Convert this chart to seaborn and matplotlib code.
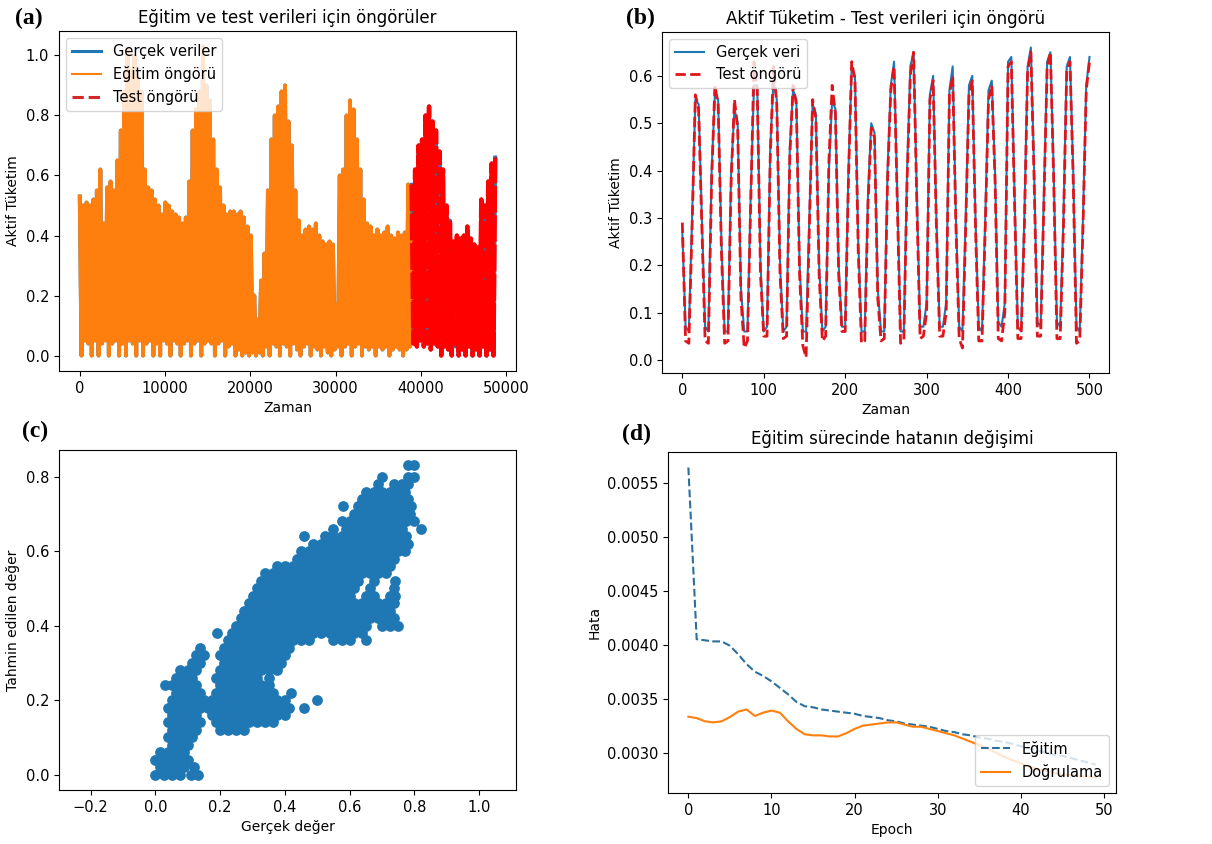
import numpy as np
import matplotlib
matplotlib.use("Agg")
import matplotlib.pyplot as plt
import seaborn as sns

# (a) daily peaks / troughs (train: 0-38900, test: 38900-48700)
egitim_tepe = [0.53, 0.50, 0.51, 0.50, 0.52, 0.55, 0.62, 0.44, 0.56, 0.58,
               0.55, 0.65, 0.75, 0.88, 1.02, 0.95, 1.00, 0.92, 0.88, 0.62,
               0.56, 0.55, 0.52, 0.50, 0.47, 0.51, 0.50, 0.48, 0.47, 0.46,
               0.44, 0.46, 0.58, 0.75, 0.82, 0.88, 1.03, 0.90, 0.85, 0.72,
               0.62, 0.56, 0.50, 0.47, 0.48, 0.48, 0.47, 0.48, 0.46, 0.43,
               0.40, 0.20, 0.12, 0.25, 0.34, 0.55, 0.72, 0.80, 0.83, 0.88,
               0.90, 0.78, 0.70, 0.55, 0.45, 0.40, 0.42, 0.43, 0.42, 0.44,
               0.40, 0.38, 0.37, 0.38, 0.37, 0.17, 0.60, 0.62, 0.80, 0.85,
               0.82, 0.72, 0.62, 0.52, 0.44, 0.43, 0.40, 0.42, 0.40, 0.41,
               0.43, 0.40, 0.39, 0.41, 0.40, 0.41, 0.57, 0.40]
egitim_dip = [0.00, 0.05, 0.04, 0.00, 0.05, 0.00, 0.04, 0.05, 0.00, 0.04,
              0.05, 0.00, 0.04, 0.00, 0.05, 0.04, 0.00, 0.05, 0.00, 0.04,
              0.05, 0.00, 0.04, 0.00, 0.05, 0.04, 0.00, 0.05, 0.04, 0.00,
              0.04, 0.05, 0.00, 0.04, 0.05, 0.00, 0.04, 0.05, 0.04, 0.00,
              0.04, 0.05, 0.00, 0.03, 0.04, 0.00, 0.02, 0.00, 0.01, 0.00,
              0.01, 0.00, 0.01, 0.00, 0.03, 0.00, 0.04, 0.03, 0.00, 0.04,
              0.03, 0.00, 0.04, 0.02, 0.00, 0.03, 0.04, 0.00, 0.03, 0.02,
              0.00, 0.03, 0.01, 0.00, 0.02, 0.03, 0.00, 0.03, 0.04, 0.00,
              0.03, 0.04, 0.00, 0.03, 0.02, 0.03, 0.00, 0.03, 0.02, 0.03,
              0.00, 0.02, 0.03, 0.02, 0.00, 0.02, 0.03]
test_tepe = [0.57, 0.62, 0.70, 0.72, 0.80, 0.83, 0.78, 0.75, 0.68, 0.62,
             0.50, 0.45, 0.38, 0.40, 0.39, 0.40, 0.43, 0.39, 0.37, 0.36,
             0.52, 0.50, 0.58, 0.64, 0.66]
test_dip = [0.04, 0.03, 0.05, 0.03, 0.04, 0.02, 0.04, 0.03, 0.00, 0.03,
            0.02, 0.00, 0.03, 0.00, 0.02, 0.00, 0.03, 0.00, 0.02, 0.00,
            0.03, 0.00, 0.02, 0.00]

# (b) first 500 test hours, every 4th hour
gercek_veri = [0.27, 0.07, 0.06, 0.30, 0.55, 0.54, 0.30, 0.07, 0.06, 0.40,
               0.56, 0.55, 0.25, 0.06, 0.06, 0.40, 0.53, 0.50, 0.15, 0.06,
               0.06, 0.35, 0.58, 0.58, 0.20, 0.06, 0.07, 0.45, 0.59, 0.55,
               0.20, 0.06, 0.07, 0.45, 0.57, 0.55, 0.20, 0.06, 0.06, 0.30,
               0.54, 0.52, 0.20, 0.06, 0.07, 0.40, 0.55, 0.53, 0.20, 0.07,
               0.07, 0.40, 0.62, 0.60, 0.25, 0.06, 0.06, 0.35, 0.50, 0.48,
               0.15, 0.06, 0.06, 0.40, 0.58, 0.63, 0.35, 0.06, 0.06, 0.40,
               0.62, 0.65, 0.35, 0.07, 0.07, 0.12, 0.56, 0.60, 0.30, 0.07,
               0.07, 0.12, 0.57, 0.62, 0.30, 0.07, 0.06, 0.30, 0.58, 0.60,
               0.30, 0.07, 0.06, 0.30, 0.57, 0.59, 0.40, 0.08, 0.07, 0.12,
               0.63, 0.64, 0.35, 0.07, 0.06, 0.30, 0.62, 0.66, 0.40, 0.08,
               0.07, 0.35, 0.63, 0.65, 0.40, 0.08, 0.07, 0.30, 0.62, 0.64,
               0.40, 0.07, 0.06, 0.30, 0.58, 0.64]
test_ongoru = [0.29, 0.04, 0.035, 0.28, 0.56, 0.53, 0.28, 0.04, 0.035, 0.38,
               0.58, 0.54, 0.23, 0.035, 0.04, 0.38, 0.55, 0.49, 0.13, 0.025,
               0.04, 0.33, 0.63, 0.57, 0.18, 0.05, 0.05, 0.43, 0.62, 0.54,
               0.18, 0.045, 0.05, 0.43, 0.58, 0.54, 0.18, 0.03, 0.005, 0.28,
               0.55, 0.51, 0.18, 0.04, 0.05, 0.42, 0.58, 0.52, 0.18, 0.06,
               0.06, 0.38, 0.63, 0.59, 0.23, 0.035, 0.04, 0.33, 0.49, 0.47,
               0.13, 0.04, 0.045, 0.38, 0.57, 0.62, 0.33, 0.035, 0.04, 0.38,
               0.60, 0.65, 0.33, 0.045, 0.05, 0.10, 0.55, 0.59, 0.28, 0.05,
               0.05, 0.10, 0.56, 0.60, 0.28, 0.045, 0.025, 0.28, 0.56, 0.59,
               0.28, 0.04, 0.04, 0.28, 0.55, 0.58, 0.38, 0.045, 0.04, 0.10,
               0.62, 0.63, 0.33, 0.045, 0.045, 0.28, 0.61, 0.65, 0.38, 0.05,
               0.05, 0.33, 0.62, 0.65, 0.38, 0.045, 0.045, 0.28, 0.61, 0.63,
               0.38, 0.035, 0.04, 0.28, 0.57, 0.63]

# (c) predicted vs real, grouped by predicted level
satir_tahmin = [0.00, 0.02, 0.04, 0.06, 0.08, 0.10, 0.12, 0.14, 0.16, 0.18,
                0.20, 0.22, 0.24, 0.26, 0.28, 0.30, 0.32, 0.34, 0.36, 0.38,
                0.40, 0.42, 0.44, 0.46, 0.48, 0.50, 0.52, 0.54, 0.56, 0.58,
                0.60, 0.62, 0.64, 0.66, 0.68, 0.70, 0.72, 0.74, 0.76, 0.78,
                0.80, 0.83]
satir_gercek = [
    [0.00, 0.025, 0.05, 0.075, 0.11, 0.13],
    [0.013, 0.038, 0.063, 0.088, 0.12],
    [0.00, 0.025, 0.05, 0.075, 0.10],
    [0.013, 0.038, 0.063, 0.088],
    [0.05, 0.075, 0.10],
    [0.038, 0.063, 0.088, 0.113],
    [0.05, 0.075, 0.10, 0.125, 0.20, 0.225, 0.25, 0.275],
    [0.038, 0.063, 0.088, 0.113, 0.138, 0.188, 0.213, 0.238, 0.263, 0.288, 0.313, 0.338, 0.363],
    [0.05, 0.075, 0.10, 0.125, 0.175, 0.20, 0.225, 0.25, 0.275, 0.30, 0.325, 0.35, 0.375, 0.40],
    [0.038, 0.063, 0.088, 0.113, 0.138, 0.163, 0.188, 0.213, 0.238, 0.263, 0.288, 0.313, 0.338,
     0.363, 0.388, 0.413, 0.46],
    [0.05, 0.075, 0.10, 0.125, 0.15, 0.175, 0.20, 0.225, 0.25, 0.275, 0.30, 0.325, 0.35, 0.375,
     0.40, 0.50],
    [0.063, 0.088, 0.113, 0.138, 0.188, 0.213, 0.238, 0.263, 0.288, 0.313, 0.338, 0.363, 0.42],
    [0.03, 0.05, 0.075, 0.10, 0.125, 0.20, 0.225, 0.25, 0.275, 0.30, 0.325, 0.35],
    [0.063, 0.088, 0.113, 0.188, 0.213, 0.238, 0.263, 0.288, 0.313, 0.35],
    [0.075, 0.10, 0.125, 0.20, 0.225, 0.25, 0.275, 0.30, 0.325, 0.35, 0.375],
    [0.113, 0.138, 0.213, 0.238, 0.263, 0.288, 0.313, 0.338, 0.363, 0.388],
    [0.125, 0.15, 0.20, 0.225, 0.25, 0.275, 0.30, 0.325, 0.35, 0.375, 0.40],
    [0.138, 0.213, 0.238, 0.263, 0.288, 0.313, 0.338, 0.363, 0.388, 0.413],
    [0.225, 0.25, 0.275, 0.30, 0.325, 0.35, 0.375, 0.40, 0.425, 0.45, 0.475, 0.55, 0.575, 0.60, 0.65],
    [0.19, 0.238, 0.263, 0.288, 0.313, 0.338, 0.363, 0.388, 0.413, 0.438, 0.463, 0.488, 0.513,
     0.538, 0.563, 0.588, 0.613, 0.638],
    [0.25, 0.275, 0.30, 0.325, 0.35, 0.375, 0.40, 0.425, 0.45, 0.475, 0.50, 0.525, 0.55, 0.575,
     0.60, 0.625, 0.65, 0.70, 0.725, 0.75],
    [0.263, 0.288, 0.313, 0.338, 0.363, 0.388, 0.413, 0.438, 0.463, 0.488, 0.513, 0.538, 0.563,
     0.588, 0.613, 0.638, 0.663, 0.688, 0.713, 0.738],
    [0.275, 0.30, 0.325, 0.35, 0.375, 0.40, 0.425, 0.45, 0.475, 0.50, 0.525, 0.55, 0.575, 0.60,
     0.625, 0.65, 0.675, 0.70, 0.725],
    [0.288, 0.313, 0.338, 0.363, 0.388, 0.413, 0.438, 0.463, 0.488, 0.513, 0.538, 0.563, 0.588,
     0.613, 0.638, 0.663, 0.688, 0.713, 0.738],
    [0.30, 0.325, 0.35, 0.375, 0.40, 0.425, 0.45, 0.475, 0.50, 0.525, 0.55, 0.575, 0.60, 0.65,
     0.675, 0.725, 0.74],
    [0.313, 0.338, 0.363, 0.388, 0.413, 0.438, 0.463, 0.488, 0.513, 0.538, 0.563, 0.588, 0.613,
     0.663, 0.738],
    [0.325, 0.35, 0.375, 0.40, 0.425, 0.45, 0.475, 0.50, 0.525, 0.55, 0.575, 0.60, 0.625, 0.675, 0.74],
    [0.338, 0.363, 0.388, 0.413, 0.438, 0.463, 0.488, 0.513, 0.538, 0.563, 0.588, 0.613, 0.638,
     0.663, 0.688, 0.713],
    [0.375, 0.40, 0.425, 0.45, 0.475, 0.50, 0.525, 0.55, 0.575, 0.60, 0.625, 0.65, 0.675, 0.70, 0.725],
    [0.438, 0.463, 0.488, 0.513, 0.538, 0.563, 0.588, 0.613, 0.638, 0.663, 0.688, 0.713, 0.738],
    [0.45, 0.475, 0.50, 0.525, 0.55, 0.575, 0.60, 0.625, 0.65, 0.675, 0.70, 0.725, 0.75, 0.77],
    [0.488, 0.513, 0.538, 0.563, 0.588, 0.613, 0.638, 0.663, 0.688, 0.713, 0.738, 0.763, 0.78],
    [0.46, 0.525, 0.55, 0.575, 0.60, 0.625, 0.65, 0.675, 0.70, 0.725, 0.75, 0.775],
    [0.55, 0.588, 0.613, 0.638, 0.663, 0.688, 0.713, 0.738, 0.763, 0.82],
    [0.575, 0.60, 0.625, 0.65, 0.675, 0.70, 0.725, 0.75, 0.775, 0.80],
    [0.613, 0.638, 0.663, 0.688, 0.713, 0.738, 0.763, 0.788],
    [0.58, 0.625, 0.65, 0.675, 0.70, 0.725, 0.75, 0.775, 0.79],
    [0.638, 0.663, 0.688, 0.713, 0.738, 0.763, 0.78],
    [0.65, 0.675, 0.70, 0.725, 0.75, 0.77],
    [0.688, 0.738, 0.763, 0.78],
    [0.70, 0.78, 0.80],
    [0.78, 0.80],
]

# (d) loss per epoch
egitim_hata = [0.00564, 0.00405, 0.00404, 0.00403, 0.00403, 0.00399, 0.00391, 0.00382, 0.00375, 0.00371,
               0.00366, 0.00360, 0.00354, 0.00347, 0.00343, 0.00342, 0.00340, 0.00339, 0.00338, 0.00337,
               0.00336, 0.00334, 0.00333, 0.00332, 0.00330, 0.00329, 0.00327, 0.00326, 0.00325, 0.00324,
               0.00322, 0.00320, 0.00319, 0.00317, 0.00316, 0.00314, 0.00313, 0.00311, 0.00310, 0.00308,
               0.00306, 0.00304, 0.00302, 0.00300, 0.00298, 0.00297, 0.00295, 0.00293, 0.00291, 0.00289]
dogrulama_hata = [0.003333, 0.00332, 0.00329, 0.00328, 0.00329, 0.00333, 0.00338, 0.00340, 0.00334, 0.00337,
                  0.00339, 0.00337, 0.00329, 0.00322, 0.00317, 0.00316, 0.00316, 0.00315, 0.00315, 0.00318,
                  0.00322, 0.00325, 0.00326, 0.00327, 0.00328, 0.00328, 0.00326, 0.00324, 0.00324, 0.00322,
                  0.00320, 0.00318, 0.00316, 0.00313, 0.00310, 0.00307, 0.00304, 0.00300, 0.00296, 0.00293,
                  0.00290, 0.00287, 0.00285, 0.00283, 0.00281, 0.00280, 0.00279, 0.00278, 0.00278, 0.00277]

plt.rcParams['font.family'] = ['DejaVu Sans']
plt.rcParams['xtick.labelsize'] = 10.5
plt.rcParams['ytick.labelsize'] = 10.5
plt.rcParams['axes.labelsize'] = 10
plt.rcParams['axes.titlesize'] = 12
plt.rcParams['legend.fontsize'] = 10.5

W, H = 1212, 844
fig = plt.figure(figsize=(W / 100, H / 100), dpi=100)

def kutu(sol, sag, ust, alt):
    return [sol / W, 1 - alt / H, (sag - sol) / W, (alt - ust) / H]

ax1 = fig.add_axes(kutu(59, 516, 31, 371))
ax2 = fig.add_axes(kutu(662, 1109, 32, 373))
ax3 = fig.add_axes(kutu(59, 516, 450, 790))
ax4 = fig.add_axes(kutu(668, 1116, 452, 793))

# (a)
egitim = np.empty(len(egitim_tepe) + len(egitim_dip))
egitim[0::2] = egitim_tepe
egitim[1::2] = egitim_dip
test = np.empty(len(test_tepe) + len(test_dip))
test[0::2] = test_tepe
test[1::2] = test_dip
x_egitim = np.linspace(0, 38900, len(egitim))
x_test = np.linspace(38900, 48700, len(test))

sns.lineplot(x=np.concatenate([x_egitim, x_test]), y=np.concatenate([egitim, test]), ax=ax1,
             color='tab:blue', lw=2.8, label='Gerçek veriler', sort=False, estimator=None)
sns.lineplot(x=x_egitim, y=egitim, ax=ax1, color='tab:orange', lw=2.8,
             label='Eğitim öngörü', sort=False, estimator=None)
# the series is so dense that the dashes merge into a solid red block
sns.lineplot(x=x_test, y=test, ax=ax1, color='red', lw=3.2, linestyle=(0, (6, 0.6)),
             label='Test öngörü', sort=False, estimator=None)
ax1.set_title('Eğitim ve test verileri için öngörüler')
ax1.set_xlabel('Zaman')
ax1.set_ylabel('Aktif Tüketim')
leg = ax1.legend(loc='upper left')
for cizgi, kalinlik in zip(leg.get_lines(), [2.2, 1.5, 2.2]):
    cizgi.set_linewidth(kalinlik)
leg.get_lines()[2].set_linestyle('--')
leg.get_lines()[2].set_color('#d62728')

# (b)
saat = np.arange(len(gercek_veri)) * 4
sns.lineplot(x=saat, y=gercek_veri, ax=ax2, color='tab:blue', lw=1.5, label='Gerçek veri',
             estimator=None)
sns.lineplot(x=saat, y=test_ongoru, ax=ax2, color='#e0151b', lw=2, linestyle='--',
             label='Test öngörü', estimator=None)
ax2.set_xlim(-24.95, 523.95)
ax2.set_title('Aktif Tüketim - Test verileri için öngörü')
ax2.set_xlabel('Zaman')
ax2.set_ylabel('Aktif Tüketim')
ax2.legend(loc='upper left')

# (c)
gercek_deger = [x for satir in satir_gercek for x in satir]
tahmin_deger = [y for y, satir in zip(satir_tahmin, satir_gercek) for _ in satir]
sns.scatterplot(x=gercek_deger, y=tahmin_deger, ax=ax3, color='tab:blue', s=60, linewidth=0)
ax3.set_xlim(-0.298, 1.114)
ax3.set_xlabel('Gerçek değer')
ax3.set_ylabel('Tahmin edilen değer')

# (d)
epoch = np.arange(len(egitim_hata))
sns.lineplot(x=epoch, y=egitim_hata, ax=ax4, color='#2b6f9e', lw=1.5, linestyle='--', label='Eğitim')
sns.lineplot(x=epoch, y=dogrulama_hata, ax=ax4, color='tab:orange', lw=1.5, label='Doğrulama')
ax4.set_title('Eğitim sürecinde hatanın değişimi')
ax4.set_xlabel('Epoch')
ax4.set_ylabel('Hata')
ax4.legend(loc='lower right')

for harf, x, y in [('(a)', 29, 18), ('(b)', 640, 18), ('(c)', 35, 431), ('(d)', 637, 434)]:
    fig.text(x / W, 1 - y / H, harf, ha='center', va='center', fontsize=17,
             family='Liberation Serif', weight='bold')

fig.savefig('out.png', dpi=100)
